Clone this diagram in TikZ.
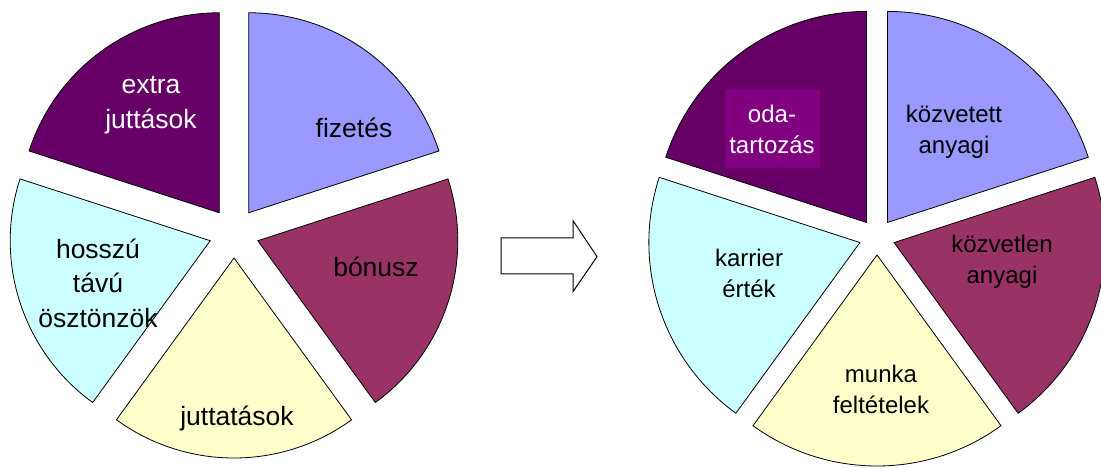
\documentclass[tikz,border=0pt]{standalone}
\usepackage{fontspec}
\setmainfont{Liberation Sans}
\definecolor{cDark}{HTML}{660066}
\definecolor{cLav}{HTML}{9999FF}
\definecolor{cPlum}{HTML}{993366}
\definecolor{cYel}{HTML}{FFFFCC}
\definecolor{cCyan}{HTML}{CCFFFF}
\definecolor{cBox}{HTML}{800080}
\newcommand{\pieslice}[7]{% cx cy r d start end color
  \pgfmathsetmacro{\pmid}{(#5+#6)/2}
  \filldraw[slice,fill=#7] ($(#1,#2)+(\pmid:#4)$) -- ++(#5:#3) arc[start angle=#5,end angle=#6,radius=#3] -- cycle;
}
\usetikzlibrary{calc}
\tikzset{
  slice/.style={draw=black,line width=0.8pt,line join=miter},
  lbl/.style={font=\fontsize{24}{31}\selectfont,align=center,inner sep=0pt,text=black},
  wlbl/.style={lbl,text=white},
  big/.style={font=\fontsize{26.5}{34.5}\selectfont},
}
\begin{document}
\begin{tikzpicture}[x=1pt,y=1pt]
\useasboundingbox (0,0) rectangle (1101,468);
% left pie
\pieslice{234}{235}{200}{25}{18}{90}{cLav}
\pieslice{234}{235}{200}{25}{-54}{18}{cPlum}
\pieslice{234}{235}{200}{25}{-126}{-54}{cYel}
\pieslice{234}{235}{200}{25}{162}{234}{cCyan}
\pieslice{234}{235}{200}{25}{90}{162}{cDark}
\node[wlbl,big] (extra) at (151,363) {extra\\juttások};
\node[lbl,big] (fiz) at (354,340) {fizetés};
\node[lbl,big] (bon) at (376,201) {bónusz};
\node[lbl,big] (jutt) at (237,50) {juttatások};
\node[lbl,big] (hossz) at (98,185) {hosszú\\távú\\ösztönzök};
% arrow
\draw[line width=1pt,fill=white] (501,230) -- (573,230) -- (573,247.3) -- (597,211.3) -- (573,176.3) -- (573,194) -- (501,194) -- cycle;
% right pie
\pieslice{877}{231}{211}{18}{18}{90}{cLav}
\pieslice{877}{231}{211}{18}{-54}{18}{cPlum}
\pieslice{877}{231}{211}{18}{-126}{-54}{cYel}
\pieslice{877}{231}{211}{18}{162}{234}{cCyan}
\pieslice{877}{231}{211}{18}{90}{162}{cDark}
\fill[cBox] (725,300) rectangle (820,379);
\node[wlbl] (oda) at (772,339) {oda-\\tartozás};
\node[lbl] (kozv) at (954,336) {közvetett\\anyagi};
\node[lbl] (kozl) at (1002,206) {közvetlen\\anyagi};
\node[lbl] (munka) at (881,79) {munka\\feltételek};
\node[lbl] (karr) at (749,195) {karrier\\érték};
\end{tikzpicture}
\end{document}
